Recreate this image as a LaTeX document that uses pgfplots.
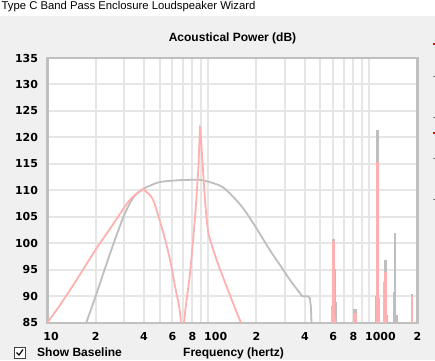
\documentclass[border=0pt]{standalone}
\usepackage{fontspec}
\setmainfont{Liberation Sans}
\newfontfamily\dejavu{DejaVu Sans}
\usepackage{pgfplots}
\pgfplotsset{compat=1.18}
\definecolor{winbg}{HTML}{F0F0F0}
\definecolor{gridgray}{HTML}{E6E6E6}
\definecolor{bordergray}{HTML}{C0C0C0}
\definecolor{curvegray}{HTML}{BEBEBE}
\definecolor{curvepink}{HTML}{FFB0B0}
\newcommand{\tickfont}{\dejavu\bfseries\fontsize{11}{13}\selectfont}
\newcommand{\spike}[4]{\addplot[#1, line width=#4, forget plot] coordinates {(#2,84) (#2,#3)};}
\begin{document}
\begin{tikzpicture}[x=1pt,y=1pt]
\useasboundingbox (0,0) rectangle (435,360);
\fill[winbg] (0,0) rectangle (435,360);
\fill[white] (0,344) rectangle (435,360);
\node[anchor=base west, inner sep=0pt, font=\fontsize{11.3}{13}\selectfont] at (1.5,351) {Type C Band Pass Enclosure Loudspeaker Wizard};
\node[anchor=base, inner sep=0pt, font=\bfseries\fontsize{12}{14}\selectfont] at (232.5,318.3) {Acoustical Power (dB)};
% partial elements of neighbouring window on the right edge
\fill[red] (433,315.5) rectangle (435,317);
\fill[red] (433,226.5) rectangle (435,228);
\foreach \yy in {283,242,201,160} {\fill[gray] (433,\yy) rectangle (435,\yy+1);}
\begin{axis}[
  at={(47.2pt,37.2pt)}, anchor=south west, scale only axis,
  width=370.1pt, height=264.8pt,
  xmode=log, xmin=10, xmax=2000, ymin=85, ymax=135,
  axis line style={draw=bordergray, line width=2.6pt},
  axis background/.style={fill=white},
  xtick={10,20,40,60,80,100,200,400,600,800,1000,2000},
  xticklabels={10,2,4,6,8,100,2,4,6,8,1000,2},
  minor xtick={30,50,70,90,300,500,700,900},
  ytick={85,90,95,100,105,110,115,120,125,130,135},
  yticklabels={85,90,95,100,105,110,115,120,125,130,135},
  grid=both,
  major grid style={draw=gridgray, line width=2pt},
  minor grid style={draw=gridgray, line width=2pt},
  major tick length=0pt, minor tick length=0pt,
  tick style={draw=none},
  xticklabel style={anchor=north west, inner sep=0pt, xshift=-4pt, yshift=-9pt, font=\tickfont},
  yticklabel style={anchor=east, inner sep=0pt, xshift=-9pt, font=\tickfont},
]
% baseline (gray)
\addplot[curvegray, line width=1.8pt, smooth, tension=0.5] coordinates {
 (16.5,82) (17.5,85) (18.05,86.2) (20,90) (24.6,98.1) (29.8,105) (34.4,108.7)
 (39.7,110.3) (43.6,110.9) (50.4,111.6) (64,111.9) (80,112) (93.1,111.9)
 (118.7,110.9) (137,109.4) (165.6,106.6) (200.4,102.8) (242.5,98.7)
 (293.6,95) (323,93.1) (372.6,90.6) (385,90)
};
\addplot[curvegray, line width=1.8pt] coordinates {
 (385,90) (418,90) (430,89.6) (436,88) (441,84)
};
\spike{curvegray}{602}{100.8}{3.2pt}
\spike{curvegray}{619}{95.2}{1.2pt}
\spike{curvegray}{628}{89}{1.2pt}
\spike{curvegray}{819}{87.6}{3.2pt}
\spike{curvegray}{1098}{90.1}{1.2pt}
\spike{curvegray}{1126}{121.5}{3.2pt}
\spike{curvegray}{1266}{96.8}{2.4pt}
\spike{curvegray}{1299}{86.5}{1.3pt}
\spike{curvegray}{1430}{90.9}{1.3pt}
\spike{curvegray}{1457}{102}{2.6pt}
\spike{curvegray}{1493}{86.5}{1.3pt}
\spike{curvegray}{1858}{90.5}{2.6pt}
% current design (pink)
\addplot[curvepink, line width=1.8pt, smooth, tension=0.5] coordinates {
 (10,85) (12.04,88.4) (15,92.8) (20,98.8) (25,103.1) (31.3,107.5) (35,109.1)
 (38.7,110.1) (39.6,110.3) (41.4,109.7) (45.7,108.1) (52.8,101.9) (58.1,96.8)
 (62.4,91.8) (67,86.9) (69.4,80)
};
\addplot[curvepink, line width=1.8pt, smooth, tension=0.35] coordinates {
 (69.4,80) (71.9,86.9) (77.3,94.4) (83,105) (87.1,114.4)
 (89.2,121.9) (91.4,117.5) (95.8,108.1) (100.5,101.9) (113.3,96.8)
 (130.6,91.8) (154.3,86.2) (160.3,85) (170,83)
};
\spike{curvepink}{585}{88.2}{1.2pt}
\spike{curvepink}{602}{100.5}{3.2pt}
\spike{curvepink}{622}{86}{1.5pt}
\spike{curvepink}{819}{86.9}{3.2pt}
\spike{curvepink}{1126}{115.4}{3.2pt}
\spike{curvepink}{1157}{89.7}{1.6pt}
\spike{curvepink}{1230}{92.7}{1.6pt}
\spike{curvepink}{1266}{94.6}{2.4pt}
\spike{curvepink}{1858}{90}{2.6pt}
\end{axis}
% bottom controls (near the window edge)
\filldraw[fill=white, draw=black!75, line width=0.8pt] (14,1.5) rectangle (25,12.5);
\draw[black, line width=1.2pt] (16.5,7.5) -- (19,5) -- (23,10.5);
\node[anchor=base west, inner sep=0pt, font=\bfseries\fontsize{12}{14}\selectfont] at (37,3.2) {Show Baseline};
\node[anchor=base west, inner sep=0pt, font=\bfseries\fontsize{12}{14}\selectfont] at (183,3.2) {Frequency (hertz)};
\end{tikzpicture}
\end{document}
